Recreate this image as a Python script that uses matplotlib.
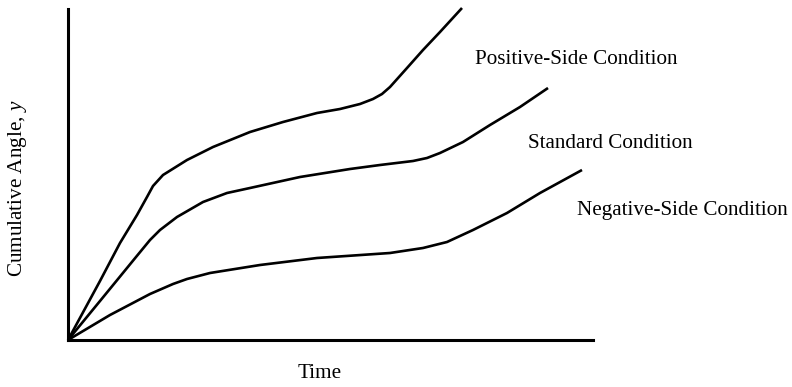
import matplotlib
matplotlib.use("Agg")
import matplotlib.pyplot as plt

# Curves (time, cumulative angle), arbitrary units
pos_t = [0, 32, 52, 69, 79, 85, 95, 119, 145, 182, 215, 249, 272, 292, 305, 314, 322, 339, 355, 372, 394]
pos_y = [0, 59, 97, 125, 143, 154, 165, 180, 193, 208, 218, 227, 231, 236, 241, 246, 253, 272, 290, 308, 332]

std_t = [0, 32, 68, 82, 92, 109, 135, 159, 182, 232, 282, 312, 345, 359, 372, 395, 422, 452, 480]
std_y = [0, 39, 83, 100, 110, 123, 138, 147, 152, 163, 171, 175, 179, 182, 187, 198, 215, 233, 252]

neg_t = [0, 42, 82, 105, 119, 142, 192, 249, 322, 355, 379, 405, 439, 472, 514]
neg_y = [0, 25, 46, 56, 61, 67, 75, 82, 87, 92, 98, 110, 127, 147, 170]

labels = ["Positive-Side Condition", "Standard Condition", "Negative-Side Condition"]

plt.rcParams['font.family'] = ['Liberation Serif', 'DejaVu Serif']
plt.rcParams['mathtext.fontset'] = 'custom'
plt.rcParams['mathtext.it'] = 'Liberation Serif:italic'
plt.rcParams['mathtext.rm'] = 'Liberation Serif'

W, H = 792, 387
fig = plt.figure(figsize=(W / 100, H / 100), dpi=100)
ax = fig.add_axes([68 / W, (H - 340) / H, 525 / W, 331 / H])

for t, y in [(pos_t, pos_y), (std_t, std_y), (neg_t, neg_y)]:
  ax.plot(t, y, color='black', linewidth=1.9, clip_on=False,
          solid_capstyle='butt', solid_joinstyle='round')

ax.set_xlim(0, 525)
ax.set_ylim(0, 331)
ax.set_xticks([])
ax.set_yticks([])
for side in ['top', 'right']:
  ax.spines[side].set_visible(False)
for side in ['left', 'bottom']:
  ax.spines[side].set_linewidth(2.2)

# curve labels, left edge at the given point
fs = 15.2
ax.text(407, 280, labels[0], fontsize=fs, va='center', ha='left')
ax.text(460, 196, labels[1], fontsize=fs, va='center', ha='left')
ax.text(509, 130, labels[2], fontsize=fs, va='center', ha='left')

fig.text(320 / W, 1 - 374 / H, "Time", fontsize=fs, ha='center', va='center')
fig.text(18 / W, 1 - 188 / H, "Cumulative Angle, $y$", fontsize=fs,
         ha='center', va='center', rotation=90)

fig.savefig("out.png", dpi=100)
